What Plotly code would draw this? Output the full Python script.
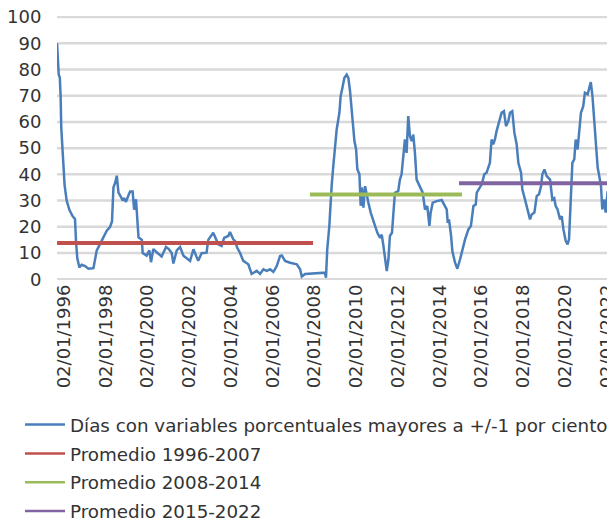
import pandas as pd
import plotly.graph_objects as go

# ---- data (decimal years, values) ----
anio = [1995.67, 1995.70, 1995.73, 1995.75, 1995.80, 1995.84, 1995.87, 1995.94, 1995.99, 1996.03,
        1996.13, 1996.26, 1996.42, 1996.53, 1996.58, 1996.64, 1996.74, 1996.85, 1997.01, 1997.17,
        1997.41, 1997.49, 1997.57, 1997.73, 1997.89, 1998.05, 1998.21, 1998.30, 1998.37, 1998.46,
        1998.53, 1998.61, 1998.72, 1998.82, 1998.88, 1998.97, 1999.09, 1999.17, 1999.29, 1999.36,
        1999.45, 1999.52, 1999.57, 1999.73, 1999.77, 1999.96, 2000.09, 2000.17, 2000.28, 2000.48,
        2000.68, 2000.89, 2001.02, 2001.16, 2001.24, 2001.40, 2001.56, 2001.72, 2001.88, 2002.04,
        2002.20, 2002.43, 2002.59, 2002.83, 2002.91, 2003.15, 2003.39, 2003.55, 2003.67, 2003.87,
        2003.95, 2004.11, 2004.19, 2004.30, 2004.43, 2004.59, 2004.83, 2004.99, 2005.23, 2005.39,
        2005.55, 2005.71, 2005.87, 2006.03, 2006.19, 2006.35, 2006.43, 2006.59, 2006.83, 2007.15,
        2007.31, 2007.39, 2007.55, 2008.50, 2008.55, 2008.61, 2008.71, 2008.77, 2008.82, 2008.90,
        2008.98, 2009.06, 2009.19, 2009.25, 2009.35, 2009.43, 2009.54, 2009.62, 2009.70, 2009.78,
        2009.86, 2009.91, 2009.99, 2010.05, 2010.15, 2010.21, 2010.27, 2010.34, 2010.42, 2010.50,
        2010.58, 2010.69, 2010.79, 2010.90, 2011.01, 2011.14, 2011.22, 2011.30, 2011.38, 2011.46,
        2011.54, 2011.61, 2011.71, 2011.77, 2011.85, 2012.01, 2012.09, 2012.17, 2012.25, 2012.33,
        2012.41, 2012.49, 2012.57, 2012.65, 2012.73, 2012.81, 2012.89, 2013.05, 2013.18, 2013.29,
        2013.40, 2013.50, 2013.56, 2013.66, 2013.85, 2014.09, 2014.22, 2014.33, 2014.38, 2014.44,
        2014.54, 2014.60, 2014.73, 2014.84, 2014.97, 2015.08, 2015.21, 2015.37, 2015.49, 2015.61,
        2015.72, 2015.77, 2015.88, 2016.01, 2016.13, 2016.24, 2016.40, 2016.48, 2016.56, 2016.64,
        2016.72, 2016.84, 2016.96, 2017.07, 2017.17, 2017.28, 2017.36, 2017.47, 2017.57, 2017.68,
        2017.76, 2017.89, 2017.95, 2018.08, 2018.21, 2018.32, 2018.40, 2018.53, 2018.64, 2018.75,
        2018.85, 2018.91, 2019.01, 2019.12, 2019.28, 2019.39, 2019.48, 2019.55, 2019.64, 2019.76,
        2019.84, 2019.92, 2020.03, 2020.12, 2020.19, 2020.28, 2020.35, 2020.44, 2020.51, 2020.60,
        2020.67, 2020.76, 2020.87, 2020.95, 2021.08, 2021.15, 2021.23, 2021.31, 2021.37, 2021.43,
        2021.51, 2021.56, 2021.62, 2021.72, 2021.78, 2021.88, 2021.94, 2022.04, 2022.10, 2022.23,
        2022.39]
dias = [90, 84, 84, 78, 77, 70, 58, 49, 43, 36,
        30, 26.5, 24, 23, 14, 8, 4.5, 5.5, 5, 4,
        4.2, 7.5, 11, 13.5, 16, 18.5, 20, 22, 35, 37,
        39.5, 33, 31.5, 30, 31, 29.5, 32, 33.5, 33.5, 26.5,
        30.5, 21, 16, 15, 10, 9, 11, 6.5, 11.5, 10,
        8.7, 12.3, 11.5, 10, 6, 11, 12.3, 9, 8, 7,
        11.4, 7, 9.9, 10.1, 15, 17.7, 13.3, 12.7, 15.8, 16.5,
        18, 15.2, 14.6, 12, 10.1, 7, 5.7, 2, 3.2, 2,
        3.8, 3.2, 3.8, 2.8, 5, 8.9, 9.1, 7, 6.3, 5.7,
        3.8, 1, 2, 2.5, 0.6, 11.4, 20.3, 29.2, 35.5, 43.2,
        49.5, 57.1, 63.5, 69.8, 73.6, 76.8, 78, 76.8, 71.7, 63.5,
        58.4, 52.7, 49.5, 42, 40, 28, 35, 27.3, 35.5, 31.7,
        29.2, 25.4, 22.8, 20.3, 17.7, 15.8, 17, 12.7, 7.6, 3.1,
        7.6, 16.5, 17.7, 25.4, 33, 33.6, 38, 40, 47, 53.3,
        48.2, 62.2, 54.6, 52.7, 55.2, 48.2, 38, 35.5, 33, 26.6,
        27.9, 20.3, 25.4, 29.2, 29.8, 30.2, 27.9, 26.6, 21.5, 22.8,
        16.5, 10.7, 6.3, 4, 7.6, 11.4, 15.2, 19, 20.3, 27.9,
        28.5, 33, 34.3, 36.2, 40, 40.6, 44.4, 53.3, 51.4, 53.3,
        56.5, 60.3, 63.5, 64.1, 58.4, 60.3, 63.5, 64.1, 55.9, 51.4,
        44.4, 40.6, 34.3, 30.4, 26.6, 22.8, 24.7, 25.4, 31.7, 32.4,
        35.5, 40, 41.9, 39.3, 38, 30.4, 30.9, 27.9, 26.6, 22.8,
        24.1, 19, 14.6, 13.3, 15.2, 30.4, 44.4, 45.7, 53.3, 49.5,
        57.1, 63.5, 66, 71.1, 70.5, 72.4, 75.2, 69.8, 62.8, 57.1,
        50.1, 42.5, 40, 35.5, 26.6, 30.4, 25.4, 33.6, 30.4, 27.9,
        25.4]

# averages: [start, end] in decimal years and value
prom_nombres = ["Promedio 1996-2007", "Promedio 2008-2014", "Promedio 2015-2022"]
prom_inicio = [1995.67, 2007.78, 2014.92]
prom_fin = [2007.93, 2015.06, 2022.39]
prom_valor = [13.8, 32.3, 36.6]
prom_colores = ["#C0504D", "#9BBB59", "#8064A2"]

tick_anios = list(range(1996, 2023, 2))
tick_textos = ["02/01/%d" % a for a in tick_anios]
x_rango = [1995.667, 2022.39]
y_ticks = list(range(0, 101, 10))


def a_fecha(y):
    base = pd.Timestamp(year=int(y), month=1, day=1)
    return base + pd.Timedelta(days=(y - int(y)) * 365.25)


fechas = [a_fecha(v) for v in anio]

fig = go.Figure()

# horizontal gridlines at each y tick, drawn beneath the data
for v in y_ticks:
    fig.add_hline(y=v, line=dict(color="#D9D9D9", width=2.5), layer="below")

fig.add_trace(go.Scatter(
    x=fechas, y=dias, mode="lines",
    name="Días con variables porcentuales mayores a +/-1 por ciento",
    line=dict(color="#4A7EBB", width=2.5), legendgroup="g0"))

for i, nm in enumerate(prom_nombres):
    fig.add_trace(go.Scatter(
        x=[a_fecha(prom_inicio[i]), a_fecha(prom_fin[i])],
        y=[prom_valor[i], prom_valor[i]], mode="lines", name=nm,
        line=dict(color=prom_colores[i], width=4), showlegend=False,
        hoverinfo="skip"))
# legend entries with the thinner legend key used in the original
for i, nm in enumerate(prom_nombres):
    fig.add_trace(go.Scatter(
        x=[None], y=[None], mode="lines", name=nm,
        line=dict(color=prom_colores[i], width=2.5), legendgroup="g%d" % (i + 1)))

font_fam = "DejaVu Sans, Verdana, sans-serif"
# the page adds an 8px body margin, so the figure is sized 8px smaller
fig.update_layout(
    template="none",
    width=607, height=513, autosize=False,
    margin=dict(l=49, r=0, t=8, b=241, autoexpand=False),
    paper_bgcolor="white", plot_bgcolor="white",
    font=dict(family=font_fam, size=18, color="#333333"),
    showlegend=True,
    legend=dict(orientation="v", x=-0.0663, y=-0.478, xanchor="left", yanchor="top",
                font=dict(size=18.3, color="#333333"), tracegroupgap=2,
                itemwidth=40, bgcolor="rgba(0,0,0,0)", borderwidth=0),
    xaxis=dict(type="date", range=[a_fecha(x_rango[0]), a_fecha(x_rango[1])],
               tickvals=[pd.Timestamp(year=a, month=1, day=2) for a in tick_anios],
               ticktext=tick_textos, tickangle=-90, showgrid=False,
               zeroline=False, showline=False, ticks="", automargin=False,
               ticklabeloverflow="allow", tickfont=dict(size=18)),
    yaxis=dict(range=[-0.3, 100.4], tickmode="array", tickvals=y_ticks,
               showgrid=False, zeroline=False, showline=False,
               ticks="outside", ticklen=11, tickcolor="rgba(255,255,255,0)",
               automargin=False, ticklabeloverflow="allow",
               tickfont=dict(size=18)),
)

fig.write_html("out.html")
